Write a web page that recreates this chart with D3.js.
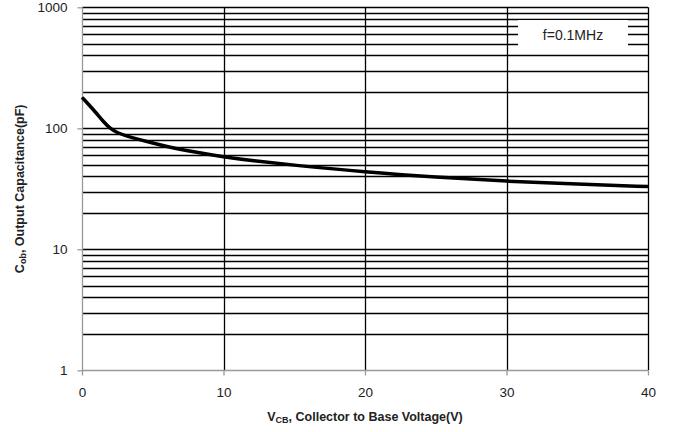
<!DOCTYPE html>
<html><head><meta charset="utf-8">
<script src="https://cdn.jsdelivr.net/npm/d3@7"></script>
<style>body{margin:0;background:#fff}svg{display:block}text{font-family:"Liberation Sans",Arial,sans-serif}</style>
</head><body><svg id="c" width="675" height="432"></svg>
<script>
const vcb = [0, 0.5, 1, 1.5, 2, 2.5, 3, 4, 5, 6, 8, 10, 12, 15, 20, 25, 30, 35, 40];
const cob = [180, 156, 134, 114, 99, 92, 87.5, 81, 75.5, 70.5, 63.5, 58, 54, 49.5, 43.5, 39.5, 36.5, 34.5, 33];
const xTicks = [0, 10, 20, 30, 40];
const yTicks = [1, 10, 100, 1000];
const legendText = "f=0.1MHz";

const svg = d3.select("#c");
const L = 82, R = 648, T = 7.3, B = 370.3;
const x = d3.scaleLinear().domain([0, 40]).range([L, R]);
const y = d3.scaleLog().domain([1, 1000]).range([B, T]);

// minor horizontal gridlines
const minor = [];
for (let d = 1; d <= 100; d *= 10) for (let k = 1; k <= 9; k++) minor.push(d * k);
minor.push(1000);
svg.append("g").selectAll("line").data(minor.filter(v => v > 1)).join("line")
  .attr("x1", L).attr("x2", R).attr("y1", d => Math.round(y(d)) + 0.5).attr("y2", d => Math.round(y(d)) + 0.5)
  .attr("stroke", "#000").attr("stroke-width", 1.3);
// vertical gridlines
svg.append("g").selectAll("line").data(xTicks.slice(1)).join("line")
  .attr("x1", d => Math.round(x(d)) + 0.5).attr("x2", d => Math.round(x(d)) + 0.5).attr("y1", T).attr("y2", B)
  .attr("stroke", "#000").attr("stroke-width", 1.3);

// legend box
svg.append("rect").attr("x", 518).attr("y", 20).attr("width", 110).attr("height", 30).attr("fill", "#fff");
svg.append("text").attr("x", 573).attr("y", 40).attr("text-anchor", "middle").attr("font-size", 14).attr("fill", "#222").text(legendText);

// axes
const yAxis = d3.axisLeft(y).tickValues(yTicks).tickFormat(d3.format("d")).tickSize(5).tickPadding(10);
const gy = svg.append("g").attr("transform", `translate(${L + 0.5},0)`).call(yAxis);
const xAxis = d3.axisBottom(x).tickValues(xTicks).tickSize(5).tickPadding(12);
const gx = svg.append("g").attr("transform", `translate(0,${Math.round(B) + 0.5})`).call(xAxis);
[gx, gy].forEach(g => {
  g.select(".domain").attr("stroke", "#999").attr("stroke-width", 1.3);
  g.selectAll(".tick line").attr("stroke", "#999").attr("stroke-width", 1.3);
  g.selectAll(".tick text").attr("font-size", 13.5).attr("fill", "#222").attr("font-family", "Liberation Sans, Arial, sans-serif");
});
gx.select(".domain").attr("d", `M${L},0H${R}`);
gy.select(".domain").attr("d", `M0,${B}V${T}`);

// curve
svg.append("path").datum(vcb.map((v, i) => [v, cob[i]]))
  .attr("fill", "none").attr("stroke", "#000").attr("stroke-width", 3.5).attr("stroke-linejoin", "round")
  .attr("d", d3.line().x(d => x(d[0])).y(d => y(d[1])).curve(d3.curveBasis));

// axis titles
const xt = svg.append("text").attr("x", (L + R) / 2).attr("y", 421).attr("text-anchor", "middle")
  .attr("font-size", 12.5).attr("font-weight", "bold").attr("fill", "#222");
xt.append("tspan").text("V");
xt.append("tspan").attr("font-size", 9).attr("dy", 2).text("CB");
xt.append("tspan").attr("dy", -2).text(", Collector to Base Voltage(V)");

const yt = svg.append("text").attr("transform", `translate(24,${(T + B) / 2}) rotate(-90)`).attr("text-anchor", "middle")
  .attr("font-size", 12.5).attr("font-weight", "bold").attr("fill", "#222");
yt.append("tspan").text("C");
yt.append("tspan").attr("font-size", 9).attr("dy", 2).text("ob");
yt.append("tspan").attr("dy", -2).text(", Output Capacitance(pF)");
</script></body></html>
